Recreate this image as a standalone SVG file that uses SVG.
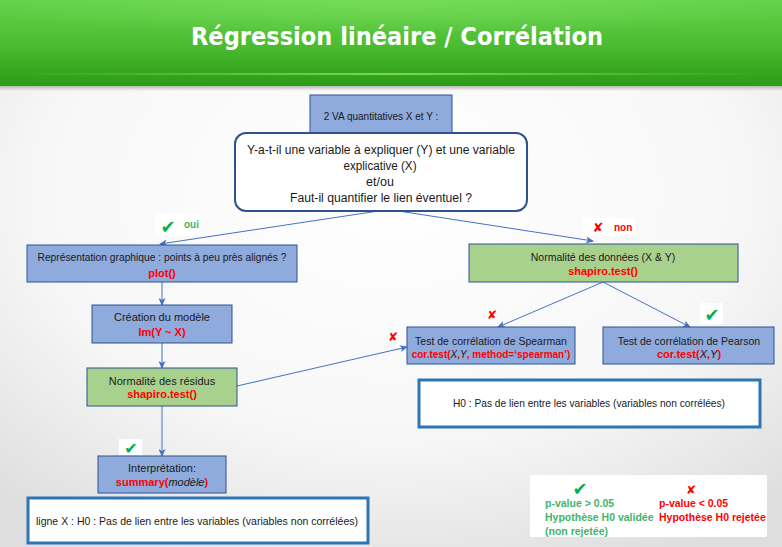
<svg xmlns="http://www.w3.org/2000/svg" width="782" height="547" viewBox="0 0 782 547">
<defs>
<radialGradient id="bg" cx="0.5" cy="0.35" r="0.75">
<stop offset="0" stop-color="#ffffff"/>
<stop offset="0.6" stop-color="#f7f7f7"/>
<stop offset="1" stop-color="#dedede"/>
</radialGradient>
<linearGradient id="hdr" x1="0" y1="0" x2="0" y2="1">
<stop offset="0" stop-color="#62d14a"/>
<stop offset="0.5" stop-color="#4dbd32"/>
<stop offset="1" stop-color="#2c9c17"/>
</linearGradient>
<radialGradient id="hdrglow" cx="0.5" cy="0" r="0.6">
<stop offset="0" stop-color="#7ee05f" stop-opacity="0.7"/>
<stop offset="1" stop-color="#7ee05f" stop-opacity="0"/>
</radialGradient>
<linearGradient id="hline" x1="0" y1="0" x2="1" y2="0">
<stop offset="0" stop-color="#7ad65c" stop-opacity="0"/>
<stop offset="0.5" stop-color="#7ad65c" stop-opacity="1"/>
<stop offset="1" stop-color="#7ad65c" stop-opacity="0"/>
</linearGradient>
<linearGradient id="shadow" x1="0" y1="0" x2="0" y2="1">
<stop offset="0" stop-color="#b8b8b8"/>
<stop offset="1" stop-color="#b8b8b8" stop-opacity="0"/>
</linearGradient>
<marker id="arr" markerWidth="8" markerHeight="7" refX="7" refY="3.5" orient="auto" markerUnits="userSpaceOnUse">
<path d="M0,0 L8,3.5 L0,7 L2,3.5 z" fill="#4472c4"/>
</marker>
<style>
.t{font-family:"Liberation Sans",Arial,sans-serif;font-size:11px;fill:#1a1a1a;text-anchor:middle}
.r{fill:#ff0000;font-weight:bold}
.i{font-style:italic;font-weight:normal;fill:#1a1a1a}
.blue{fill:#8faadc;stroke:#2f528f;stroke-width:1}
.green{fill:#a9d18e;stroke:#2f528f;stroke-width:1}
.note{fill:#ffffff;stroke:#2e75b6;stroke-width:3}
.c{stroke:#4472c4;stroke-width:1;fill:none;marker-end:url(#arr)}
.chk{font-family:"DejaVu Sans",sans-serif;fill:#00b050;text-anchor:middle;font-size:18px}
.xx{font-family:"DejaVu Sans",sans-serif;fill:#ff0000;text-anchor:middle;font-weight:bold;font-size:13px}
.lg{font-family:"Liberation Sans",Arial,sans-serif;font-size:10.5px;font-weight:bold}
</style>
</defs>
<rect width="782" height="547" fill="url(#bg)"/>
<g id="header">
<rect x="0" y="0" width="782" height="86" fill="url(#hdr)"/>
<rect x="0" y="0" width="782" height="60" fill="url(#hdrglow)"/>
<rect x="20" y="73" width="742" height="2" fill="url(#hline)"/>
<rect x="0" y="86" width="782" height="5" fill="url(#shadow)"/>
<text x="397" y="45" font-family="'Comic Sans MS','DejaVu Sans',sans-serif" font-weight="bold" font-size="24" fill="#ffffff" text-anchor="middle" textLength="412" lengthAdjust="spacingAndGlyphs">Régression linéaire / Corrélation</text>
</g>
<g id="connectors">
<line class="c" x1="385" y1="210" x2="160" y2="244"/>
<line class="c" x1="392" y1="210" x2="593" y2="241"/>
<line class="c" x1="162" y1="282" x2="162" y2="305"/>
<line class="c" x1="162" y1="343" x2="162" y2="368"/>
<line class="c" x1="162" y1="406" x2="162" y2="456"/>
<line class="c" x1="603" y1="282" x2="498" y2="327"/>
<line class="c" x1="603" y1="282" x2="690" y2="327"/>
<line class="c" x1="237" y1="386" x2="407" y2="347"/>
</g>
<g id="n-va">
<rect class="blue" x="310" y="95" width="142" height="40"/>
<text class="t" x="381" y="120" style="font-size:10px">2 VA quantitatives X et Y :</text>
</g>
<g id="n-question">
<rect x="235" y="133" width="292" height="78" rx="11" fill="#ffffff" stroke="#2f528f" stroke-width="2"/>
<text class="t" x="381" y="154" style="font-size:12.5px" textLength="268" lengthAdjust="spacingAndGlyphs">Y-a-t-il une variable à expliquer (Y) et une variable</text>
<text class="t" x="380" y="170" style="font-size:12.5px" textLength="73" lengthAdjust="spacingAndGlyphs">explicative (X)</text>
<text class="t" x="380" y="186" style="font-size:12.5px">et/ou</text>
<text class="t" x="381" y="202" style="font-size:12.5px" textLength="182" lengthAdjust="spacingAndGlyphs">Faut-il quantifier le lien éventuel ?</text>
</g>
<g id="lbl-oui">
<rect x="155" y="213" width="45" height="23" fill="#ffffff"/>
<text class="chk" x="168" y="233">✔</text>
<text x="184" y="228" font-family="'Liberation Sans',Arial,sans-serif" font-size="10" font-weight="bold" fill="#3fb56a">oui</text>
</g>
<g id="lbl-non">
<rect x="583" y="218" width="52" height="18" fill="#ffffff"/>
<text class="xx" x="598" y="232">✘</text>
<text x="614" y="231" font-family="'Liberation Sans',Arial,sans-serif" font-size="10" font-weight="bold" fill="#ff0000">non</text>
</g>
<g id="n-representation">
<rect class="blue" x="27" y="245" width="270" height="37"/>
<text class="t" x="162" y="261" textLength="249" lengthAdjust="spacingAndGlyphs">Représentation graphique : points à peu près alignés ?</text>
<text class="t r" x="162" y="277">plot()</text>
</g>
<g id="n-creation">
<rect class="blue" x="92" y="305" width="140" height="38"/>
<text class="t" x="162" y="321">Création du modèle</text>
<text class="t r" x="162" y="336">lm(Y ~ X)</text>
</g>
<g id="n-residus">
<rect class="green" x="87" y="368" width="150" height="38"/>
<text class="t" x="162" y="385">Normalité des résidus</text>
<text class="t r" x="162" y="398">shapiro.test()</text>
</g>
<g id="lbl-chk-interp">
<rect x="119" y="439" width="23" height="16" fill="#ffffff"/>
<text class="chk" x="131" y="454" style="font-size:16px">✔</text>
</g>
<g id="n-interpretation">
<rect class="blue" x="98" y="456" width="128" height="37"/>
<text class="t" x="162" y="472">Interprétation:</text>
<text class="t" x="162" y="486"><tspan class="r">summary(</tspan><tspan class="i">modèle</tspan><tspan class="r">)</tspan></text>
</g>
<g id="n-h0-left">
<rect class="note" x="28" y="498" width="340" height="45"/>
<text class="t" x="197" y="525" textLength="322" lengthAdjust="spacingAndGlyphs">ligne X : H0 : Pas de lien entre les variables (variables non corrélées)</text>
</g>
<g id="n-normalite-donnees">
<rect class="green" x="469" y="244" width="269" height="38"/>
<text class="t" x="603" y="261" style="font-size:10.5px">Normalité des données (X  &amp; Y)</text>
<text class="t r" x="603" y="275">shapiro.test()</text>
</g>
<g id="lbl-x-spearman">
<text class="xx" x="492" y="319" style="font-size:12px">✘</text>
<text class="xx" x="393" y="341" style="font-size:12px">✘</text>
</g>
<g id="lbl-chk-pearson">
<rect x="700" y="303" width="23" height="21" fill="#ffffff"/>
<text class="chk" x="712" y="321">✔</text>
</g>
<g id="n-spearman">
<rect class="blue" x="407" y="327" width="168" height="37"/>
<text class="t" x="491" y="345" style="font-size:10.5px">Test de corrélation de Spearman</text>
<text class="t" x="491" y="358" style="font-size:10px"><tspan class="r">cor.test(</tspan><tspan class="i">X</tspan><tspan class="r">,</tspan><tspan class="i">Y</tspan><tspan class="r">, method=‘spearman’)</tspan></text>
</g>
<g id="n-pearson">
<rect class="blue" x="603" y="327" width="171" height="37"/>
<text class="t" x="689" y="345" style="font-size:10.5px">Test de corrélation de Pearson</text>
<text class="t" x="689" y="358"><tspan class="r">cor.test(</tspan><tspan class="i">X</tspan><tspan class="r">,</tspan><tspan class="i">Y</tspan><tspan class="r">)</tspan></text>
</g>
<g id="n-h0-right">
<rect class="note" x="419" y="380" width="341" height="47"/>
<text class="t" x="589" y="407" textLength="272" lengthAdjust="spacingAndGlyphs">H0 : Pas de lien entre les variables (variables non corrélées)</text>
</g>
<g id="legend">
<rect x="530" y="475" width="237" height="62" fill="#ffffff"/>
<text class="chk" x="580" y="495">✔</text>
<text class="xx" x="691" y="494" style="font-size:12px">✘</text>
<text class="lg" x="545" y="507" fill="#3fb56a">p-value &gt; 0.05</text>
<text class="lg" x="545" y="521" fill="#3fb56a">Hypothèse H0 validée</text>
<text class="lg" x="545" y="535" fill="#3fb56a">(non rejetée)</text>
<text class="lg" x="659" y="507" fill="#ff0000">p-value &lt; 0.05</text>
<text class="lg" x="659" y="521" fill="#ff0000">Hypothèse H0 rejetée</text>
</g>
</svg>
